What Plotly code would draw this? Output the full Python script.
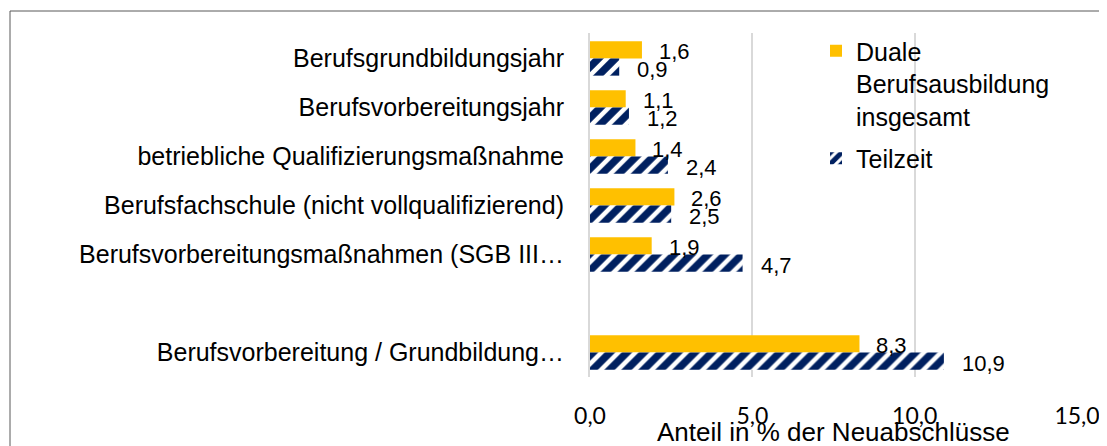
import plotly.graph_objects as go

categories = [
    "Berufsgrundbildungsjahr",
    "Berufsvorbereitungsjahr",
    "betriebliche Qualifizierungsmaßnahme",
    "Berufsfachschule (nicht vollqualifizierend)",
    "Berufsvorbereitungsmaßnahmen (SGB III…",
    " ",
    "Berufsvorbereitung / Grundbildung…",
]
duale = [1.6, 1.1, 1.4, 2.6, 1.9, None, 8.3]
teilzeit = [0.9, 1.2, 2.4, 2.5, 4.7, None, 10.9]
tick_vals = [0, 5, 10, 15]
tick_text = ["0,0", "5,0", "10,0", "15,0"]

YELLOW = "#FFC000"
NAVY = "#002060"
FONT = "Liberation Sans, Arial, sans-serif"

fig = go.Figure()
fig.add_trace(go.Bar(
    y=categories, x=duale, orientation="h",
    name="Duale<br>Berufsausbildung<br>insgesamt", legendgroup="a",
    marker=dict(color=YELLOW, line=dict(width=0)),
))
fig.add_trace(go.Bar(
    y=categories, x=teilzeit, orientation="h",
    name="Teilzeit", legendgroup="b",
    marker=dict(color="white", line=dict(width=0),
                pattern=dict(shape="/", fgcolor=NAVY, bgcolor="white",
                             fgopacity=1, size=12, solidity=0.62)),
))

annotations = []
for vals, ysh, xsh in ((duale, 7, 15), (teilzeit, -11, 16)):
    for c, v in zip(categories, vals):
        if v is None:
            continue
        annotations.append(dict(
            x=v, y=c, xref="x", yref="y", text=f"{v:.1f}".replace(".", ","),
            showarrow=False, xanchor="left", yanchor="middle",
            xshift=xsh, yshift=ysh,
            font=dict(family=FONT, size=22, color="#000000"),
        ))

annotations.append(dict(
    x=0.5, y=-0.16, xref="paper", yref="paper",
    text="Anteil in % der Neuabschlüsse", showarrow=False,
    xanchor="center", yanchor="middle",
    font=dict(family=FONT, size=26, color="#000000"),
))

L, R, T, B = 582, 38, 25, 77
W, H = 1107, 446
pw, ph = W - L - R, H - T - B

def px_x(p):
    return (p - L) / pw

def px_y(p):
    return (H - B - p) / ph

shapes = [dict(
    type="rect", xref="paper", yref="paper",
    x0=px_x(2), x1=px_x(1120), y0=px_y(460), y1=px_y(3),
    line=dict(color="#595959", width=1), fillcolor="rgba(0,0,0,0)", layer="below",
)]

fig.update_layout(
    width=W, height=H,
    margin=dict(l=L, r=R, t=T, b=B),
    paper_bgcolor="white", plot_bgcolor="white",
    barmode="group", bargap=0.3, bargroupgap=0,
    separators=",.",
    font=dict(family=FONT, size=20, color="#000000"),
    xaxis=dict(
        range=[0, 15], tickvals=tick_vals, ticktext=tick_text,
        showgrid=True, gridcolor="#D9D9D9", gridwidth=2,
        zeroline=False, showline=False, ticks="",
        ticklabelstandoff=23,
        tickfont=dict(family="Lato, Carlito, sans-serif", size=23, color="#000000"),
        fixedrange=True,
    ),
    yaxis=dict(
        autorange="reversed", type="category",
        showgrid=False, zeroline=False, ticks="",
        showline=True, linecolor="#D9D9D9", linewidth=2,
        ticklabelstandoff=19,
        tickfont=dict(family=FONT, size=25, color="#000000"),
    ),
    legend=dict(
        x=px_x(808), y=px_y(20), xanchor="left", yanchor="top",
        font=dict(family=FONT, size=25, color="#000000"),
        itemwidth=30, valign="top", tracegroupgap=7,
        bgcolor="rgba(0,0,0,0)",
    ),
    annotations=annotations,
    shapes=shapes,
)

fig.write_html("out.html")
